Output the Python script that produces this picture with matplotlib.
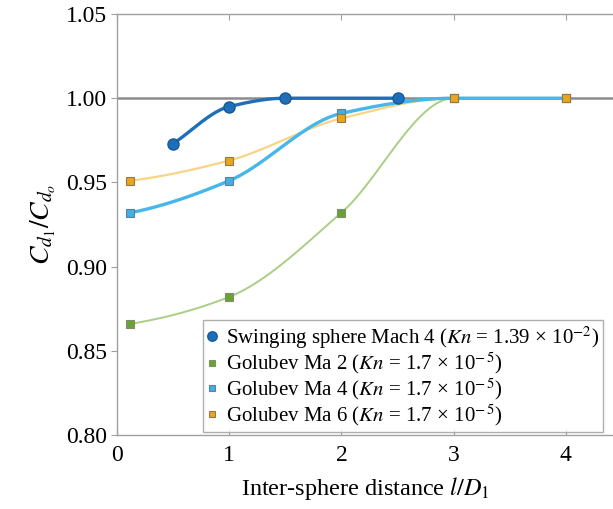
import numpy as np
import matplotlib
matplotlib.use("Agg")
import matplotlib.pyplot as plt

plt.rcParams['font.family'] = ['Liberation Serif', 'DejaVu Serif']
plt.rcParams['mathtext.fontset'] = 'stix'

# Data
swing_x = [0.5, 1.0, 1.5, 2.5]
swing_y = [0.973, 0.995, 1.0, 1.0]
gol_x = [0.12, 1.0, 2.0, 3.0, 4.0]
ma2_y = [0.866, 0.882, 0.932, 1.0, 1.0]
ma4_y = [0.932, 0.951, 0.991, 1.0, 1.0]
ma6_y = [0.951, 0.963, 0.988, 1.0, 1.0]

labels = [
    r'Swinging sphere Mach 4 ($Kn$ = 1.39 × 10$^{-2}$)',
    r'Golubev Ma 2 ($Kn$ = 1.7 × 10$^{-\,5}$)',
    r'Golubev Ma 4 ($Kn$ = 1.7 × 10$^{-\,5}$)',
    r'Golubev Ma 6 ($Kn$ = 1.7 × 10$^{-\,5}$)',
]
yticks = [0.80, 0.85, 0.90, 0.95, 1.00, 1.05]
xticks = [0, 1, 2, 3, 4]


def pchip(x, y, n=60, end=0.6):
    x = np.asarray(x, float)
    y = np.asarray(y, float)
    h = np.diff(x)
    d = np.diff(y) / h
    m = np.zeros_like(y)
    for k in range(1, len(x) - 1):
        if d[k - 1] * d[k] > 0:
            w1 = 2 * h[k] + h[k - 1]
            w2 = h[k] + 2 * h[k - 1]
            m[k] = (w1 + w2) / (w1 / d[k - 1] + w2 / d[k])
    m[0] = d[0] * end
    m[-1] = d[-1] * end
    xs, ys = [], []
    for k in range(len(x) - 1):
        t = np.linspace(0, 1, n)
        h00 = 2 * t ** 3 - 3 * t ** 2 + 1
        h10 = t ** 3 - 2 * t ** 2 + t
        h01 = -2 * t ** 3 + 3 * t ** 2
        h11 = t ** 3 - t ** 2
        xs.append(x[k] + t * h[k])
        ys.append(h00 * y[k] + h10 * h[k] * m[k] + h01 * y[k + 1] + h11 * h[k] * m[k + 1])
    return np.concatenate(xs), np.concatenate(ys)


fig = plt.figure(figsize=(6.13, 5.09), dpi=100)
ax = fig.add_axes([117 / 613, 74 / 509, 496 / 613, 421 / 509])
ax.set_xlim(0, 4.42)
ax.set_ylim(0.80, 1.05)

ax.axhline(1.0, color='#8c8c8c', lw=1.8, zorder=1)

c_swing = '#1f6fb8'
c_ma2l, c_ma2m = '#a9cf86', '#6aa334'
c_ma4l, c_ma4m = '#47b6ea', '#3fb0e6'
c_ma6l, c_ma6m = '#f7d584', '#eba51a'

sx, sy = pchip(gol_x, ma2_y)
ax.plot(sx, sy, color=c_ma2l, lw=1.4, zorder=2)
sx, sy = pchip(gol_x, ma6_y)
ax.plot(sx, sy, color=c_ma6l, lw=1.6, zorder=2)
sx, sy = pchip(gol_x, ma4_y)
ax.plot(sx, sy, color=c_ma4l, lw=2.4, zorder=3)
sx, sy = pchip(swing_x, swing_y, end=1.0)
ax.plot(sx, sy, color=c_swing, lw=2.4, zorder=4)

h0, = ax.plot(swing_x, swing_y, 'o', ms=8, color=c_swing, mec='#155a98', mew=1, ls='none', zorder=6)
h1, = ax.plot(gol_x, ma2_y, 's', ms=5.5, color=c_ma2m, mec='#7f8f6a', mew=0.8, ls='none', zorder=5)
h2, = ax.plot(gol_x, ma4_y, 's', ms=5.5, color=c_ma4m, mec='#5f7f95', mew=0.8, ls='none', zorder=5)
h3, = ax.plot(gol_x, ma6_y, 's', ms=5.5, color=c_ma6m, mec='#8f7a50', mew=0.8, ls='none', zorder=5)

ax.set_xticks(xticks)
ax.set_xticklabels([str(v) for v in xticks])
ax.set_yticks(yticks)
ax.set_yticklabels([f'{v:.2f}' for v in yticks])

for s in ['left', 'bottom', 'top']:
    ax.spines[s].set_color('#a0a0a0')
    ax.spines[s].set_linewidth(1.0)
ax.spines['right'].set_visible(False)

ax.tick_params(axis='x', direction='in', top=True, bottom=True, length=4, color='#a0a0a0',
               labelsize=17, pad=7)
ax.tick_params(axis='y', direction='out', length=4, color='#a0a0a0', labelsize=17, pad=3)

ax.set_xlabel(r'Inter-sphere distance $l/D_1$', fontsize=17.5, labelpad=7)
ax.set_ylabel(r'$C_{d_1}/C_{d_o}$', fontsize=20, labelpad=6)

leg = ax.legend([h0, h1, h2, h3], labels, loc='lower left',
                bbox_to_anchor=(203 / 613, 77 / 509), bbox_transform=fig.transFigure,
                fontsize=15, frameon=True, fancybox=False, borderaxespad=0,
                handlelength=0.5, handletextpad=0.4, labelspacing=0.0,
                borderpad=0.2, markerscale=0.85)
leg.get_frame().set_edgecolor('#9a9a9a')
leg.get_frame().set_linewidth(1.0)
leg.set_zorder(10)

fig.savefig('out.png', dpi=100)
